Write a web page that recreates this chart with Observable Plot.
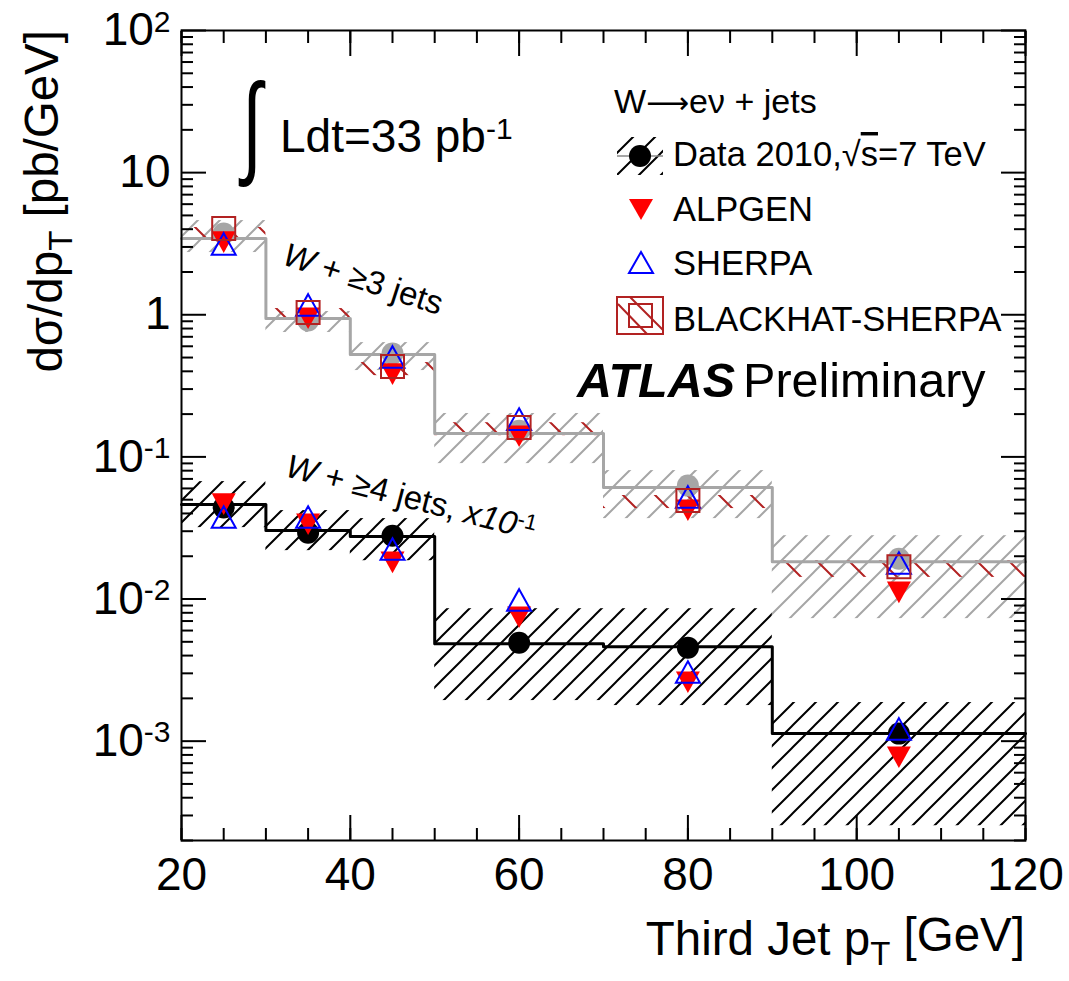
<!DOCTYPE html>
<html><head><meta charset="utf-8">
<script src="https://cdn.jsdelivr.net/npm/d3@7"></script>
<script src="https://cdn.jsdelivr.net/npm/@observablehq/plot@0.6"></script>
<style>body{margin:0;background:#fff;} svg{display:block}</style>
</head><body><div id="chart"></div>
<script>
// ---- bins (third jet pT, GeV)
const binLo = [20, 30, 40, 50, 70, 90];
const binHi = [30, 40, 50, 70, 90, 120];
const binCenter = [25, 35, 45, 60, 80, 105];
// ---- W + >=3 jets  (pb/GeV)
const data3 = [3.44, 0.94, 0.525, 0.146, 0.0608, 0.0183];
const data3Points = [3.73, 0.91, 0.533, 0.153, 0.0628, 0.0192];
const syst3Hi = [4.60, 1.054, 0.637, 0.202, 0.0801, 0.0279];
const syst3Lo = [2.74, 0.750, 0.405, 0.0897, 0.0368, 0.00728];
const alpgen3 = [3.44, 1.003, 0.405, 0.148, 0.0447, 0.0118];
const sherpa3 = [2.97, 1.106, 0.476, 0.174, 0.0493, 0.0169];
const blackhat3 = [4.04, 1.036, 0.432, 0.161, 0.0493, 0.0169];
const blackhat3Hi = [4.11, 1.106, 0.461, 0.174, 0.0535, 0.0186];
const blackhat3Lo = [3.49, 0.925, 0.373, 0.141, 0.0433, 0.0142];
// ---- W + >=4 jets, x 10^-1 (pb/GeV)
const data4 = [0.0462, 0.0303, 0.0275, 0.00485, 0.00462, 0.00113];
const data4Points = [0.0440, 0.0293, 0.0279, 0.00493, 0.00455, 0.00113];
const syst4Hi = [0.0670, 0.0419, 0.0368, 0.00855, 0.00855, 0.00187];
const syst4Lo = [0.0318, 0.0219, 0.0186, 0.00193, 0.00178, 0.000254];
const alpgen4 = [0.0493, 0.0356, 0.0192, 0.00789, 0.00275, 0.000817];
const sherpa4 = [0.0356, 0.0356, 0.0212, 0.00929, 0.00289, 0.00115];
// ---- axes
const xMajor = [20, 40, 60, 80, 100, 120];
const yMajor = [1e-3, 1e-2, 1e-1, 1, 10, 100];
const yTickLabels = ["10^-3", "10^-2", "10^-1", "1", "10", "10^2"];
const yDomain = [2e-4, 100];
const xDomain = [20, 120];

const FONT = "'Liberation Sans', Arial, Helvetica, sans-serif";
const xMinor = d3.range(20, 120.001, 5);
const yMinor = [];
for (let e = -4; e <= 1; e++) for (let m = 2; m <= 9; m++) {
  const v = m * Math.pow(10, e);
  if (v >= yDomain[0] && v <= yDomain[1]) yMinor.push(v);
}

const bins = binLo.map((lo, i) => ({
  lo, hi: binHi[i], x: binCenter[i],
  d3: data3[i], p3: data3Points[i], s3lo: syst3Lo[i], s3hi: syst3Hi[i],
  a3: alpgen3[i], sh3: sherpa3[i], bh3: blackhat3[i], bh3lo: blackhat3Lo[i], bh3hi: blackhat3Hi[i],
  d4: data4[i], p4: data4Points[i], s4lo: syst4Lo[i], s4hi: syst4Hi[i],
  a4: alpgen4[i], sh4: sherpa4[i]
}));
const step = vals => bins.flatMap((b, i) => [{x: b.lo, y: vals[i]}, {x: b.hi, y: vals[i]}]);

// custom symbols
const triDown = {draw(ctx, size) { const r = Math.sqrt(size / Math.PI), h = 1.8 * r;
  ctx.moveTo(-r, -h / 3); ctx.lineTo(r, -h / 3); ctx.lineTo(0, 2 * h / 3); ctx.closePath(); }};
const triUp = {draw(ctx, size) { const r = Math.sqrt(size / Math.PI), h = 1.8 * r;
  ctx.moveTo(0, -2 * h / 3); ctx.lineTo(r, h / 3); ctx.lineTo(-r, h / 3); ctx.closePath(); }};
const box = {draw(ctx, size) { const r = Math.sqrt(size / Math.PI);
  ctx.moveTo(-r, -r); ctx.lineTo(r, -r); ctx.lineTo(r, r); ctx.lineTo(-r, r); ctx.closePath(); }};

const RED = "#ff0000", BLUE = "#0000ff", DKRED = "#b22222", GRAY = "#a6a6a6";

const svg = Plot.plot({
  width: 1069, height: 981,
  marginLeft: 181, marginRight: 44, marginTop: 30, marginBottom: 141,
  style: {fontFamily: FONT, fontSize: "46px", background: "white", color: "black"},
  x: {domain: xDomain, label: null},
  y: {type: "log", domain: yDomain, label: null},
  marks: [
    Plot.rect(bins, {x1: "lo", x2: "hi", y1: "s3lo", y2: "s3hi", fill: "url(#hatchGray)"}),
    Plot.rect(bins, {x1: "lo", x2: "hi", y1: "s4lo", y2: "s4hi", fill: "url(#hatchBlack)"}),
    Plot.rect(bins, {x1: "lo", x2: "hi", y1: "bh3lo", y2: "bh3hi", fill: "url(#hatchRed)"}),
    Plot.line(step(data3), {x: "x", y: "y", stroke: GRAY, strokeWidth: 3}),
    Plot.line(step(data4), {x: "x", y: "y", stroke: "black", strokeWidth: 3}),
    Plot.dot(bins, {x: "x", y: "p3", r: 11, fill: GRAY}),
    Plot.dot(bins, {x: "x", y: "p4", r: 11, fill: "black"}),
    Plot.dot(bins, {x: "x", y: "a3", r: 12, symbol: triDown, fill: RED, stroke: "none"}),
    Plot.dot(bins, {x: "x", y: "a4", r: 12, symbol: triDown, fill: RED, stroke: "none"}),
    Plot.dot(bins, {x: "x", y: "sh3", r: 12, symbol: triUp, fill: "none", stroke: BLUE, strokeWidth: 2}),
    Plot.dot(bins, {x: "x", y: "sh4", r: 12, symbol: triUp, fill: "none", stroke: BLUE, strokeWidth: 2}),
    Plot.dot(bins, {x: "x", y: "bh3", r: 11.5, symbol: box, fill: "none", stroke: DKRED, strokeWidth: 2}),
    Plot.frame({stroke: "black", strokeWidth: 2}),
    Plot.axisY(yMajor, {anchor: "left", tickSize: -25, tickPadding: 36, strokeWidth: 2, label: null,
      tickFormat: d => yTickLabels[yMajor.indexOf(d)]}),
    Plot.axisY(yMinor, {anchor: "left", tickSize: -12, strokeWidth: 2, label: null, tickFormat: () => ""}),
    Plot.axisY(yMajor, {anchor: "right", tickSize: -25, strokeWidth: 2, label: null, tickFormat: () => ""}),
    Plot.axisY(yMinor, {anchor: "right", tickSize: -12, strokeWidth: 2, label: null, tickFormat: () => ""}),
    Plot.axisX(xMajor, {anchor: "bottom", tickSize: -25, tickPadding: 42, strokeWidth: 2, label: null, tickFormat: d => String(d)}),
    Plot.axisX(xMinor, {anchor: "bottom", tickSize: -12, strokeWidth: 2, label: null, tickFormat: () => ""}),
    Plot.axisX(xMajor, {anchor: "top", tickSize: -25, strokeWidth: 2, label: null, tickFormat: () => ""}),
    Plot.axisX(xMinor, {anchor: "top", tickSize: -12, strokeWidth: 2, label: null, tickFormat: () => ""})
  ]
});
document.getElementById("chart").appendChild(svg);

const S = d3.select(svg);
// hatch patterns
const defs = S.insert("defs", ":first-child");
function hatch(id, s, color, dir, w) {
  const p = defs.append("pattern").attr("id", id).attr("patternUnits", "userSpaceOnUse")
    .attr("width", s).attr("height", s);
  const d = dir === "/"
    ? `M0,${s} L${s},0 M${-s/4},${s/4} L${s/4},${-s/4} M${3*s/4},${5*s/4} L${5*s/4},${3*s/4}`
    : `M0,0 L${s},${s} M${-s/4},${3*s/4} L${s/4},${5*s/4} M${3*s/4},${-s/4} L${5*s/4},${s/4}`;
  p.append("path").attr("d", d).attr("stroke", color).attr("stroke-width", w).attr("fill", "none");
}
hatch("hatchGray", 22, GRAY, "/", 2);
hatch("hatchBlack", 22, "black", "/", 2);
hatch("hatchRed", 32, DKRED, "\\", 2);

// superscripts for y tick labels
S.selectAll('g[aria-label="y-axis tick label"] text').each(function() {
  const s = this.textContent;
  if (s.includes("^")) {
    const [base, exp] = s.split("^");
    const t = d3.select(this); t.text(null);
    t.append("tspan").text(base);
    t.append("tspan").attr("dy", "-0.45em").attr("font-size", "30px").text(exp);
  }
});

const A = S.append("g").attr("font-family", FONT).attr("fill", "black").attr("text-anchor", "start");
// axis titles
const xt = A.append("text").attr("x", 1025).attr("y", 955).attr("text-anchor", "end").attr("font-size", 47.5);
xt.append("tspan").text("Third Jet p");
xt.append("tspan").attr("dy", "0.3em").attr("font-size", "33px").text("T");
xt.append("tspan").attr("dy", "-0.3em").text(" [GeV]");
const yt = A.append("text").attr("transform", "translate(62,30) rotate(-90)").attr("text-anchor", "end").attr("font-size", 47.5);
yt.append("tspan").text("dσ/dp");
yt.append("tspan").attr("dy", "0.3em").attr("font-size", "33px").text("T");
yt.append("tspan").attr("dy", "-0.3em").text(" [pb/GeV]");

// luminosity
A.append("text").attr("transform", "translate(242,163) scale(0.72,1.13)").attr("font-size", 100).text("∫");
const lum = A.append("text").attr("x", 280).attr("y", 152).attr("font-size", 46);
lum.append("tspan").text("Ldt=33 pb");
lum.append("tspan").attr("dy", "-0.45em").attr("font-size", "30px").text("-1");

// ATLAS Preliminary
const atl = A.append("text").attr("x", 577).attr("y", 397).attr("font-size", 48.5);
atl.append("tspan").attr("font-weight", "bold").attr("font-style", "italic").text("ATLAS");
atl.append("tspan").attr("dx", 8).text("Preliminary");

// rotated labels
const l3 = A.append("text").attr("transform", "translate(281,264) rotate(18)").attr("font-size", 33);
l3.append("tspan").attr("font-style", "italic").text("W");
l3.append("tspan").text(" + ≥3 jets");
const l4 = A.append("text").attr("transform", "translate(284,476) rotate(14.5)").attr("font-size", 33);
l4.append("tspan").attr("font-style", "italic").text("W");
l4.append("tspan").text(" + ≥4 jets, ");
l4.append("tspan").attr("font-style", "italic").text("x10");
l4.append("tspan").attr("dy", "-0.45em").attr("font-size", "22px").text("-1");

// legend
const L = A.append("g");
const wl = L.append("text").attr("x", 614).attr("y", 113).attr("font-size", 34);
wl.append("tspan").text("W");
wl.append("tspan").attr("font-family", "'DejaVu Sans', sans-serif").attr("font-size", 30).text("⟶");
wl.append("tspan").text("eν + jets");
L.append("rect").attr("x", 617).attr("y", 137).attr("width", 46).attr("height", 38).attr("fill", "url(#hatchBlack)");
L.append("line").attr("x1", 617).attr("x2", 663).attr("y1", 156).attr("y2", 156).attr("stroke", "#888").attr("stroke-width", 1.5);
L.append("circle").attr("cx", 640).attr("cy", 156).attr("r", 11).attr("fill", "black");
const dl = L.append("text").attr("x", 673).attr("y", 166).attr("font-size", 34.5);
dl.append("tspan").text("Data 2010,√");
dl.append("tspan").attr("text-decoration", "overline").text("s");
dl.append("tspan").text("=7 TeV");
L.append("path").attr("d", "M629,199 L653,199 L641,220 Z").attr("fill", RED);
L.append("text").attr("x", 673).attr("y", 221).attr("font-size", 34.5).text("ALPGEN");
L.append("path").attr("d", "M641,252 L653,273 L629,273 Z").attr("fill", "none").attr("stroke", BLUE).attr("stroke-width", 2);
L.append("text").attr("x", 673).attr("y", 275).attr("font-size", 34.5).text("SHERPA");
L.append("rect").attr("x", 617).attr("y", 297).attr("width", 46).attr("height", 37).attr("fill", "none").attr("stroke", DKRED).attr("stroke-width", 2);
L.append("rect").attr("x", 629).attr("y", 304).attr("width", 23).attr("height", 23).attr("fill", "none").attr("stroke", DKRED).attr("stroke-width", 2);
L.append("path").attr("d", "M618,304 L647,334 M630,297 L663,330").attr("stroke", DKRED).attr("stroke-width", 2);
L.append("text").attr("x", 673).attr("y", 331).attr("font-size", 34.5).text("BLACKHAT-SHERPA");
</script>
</body></html>
